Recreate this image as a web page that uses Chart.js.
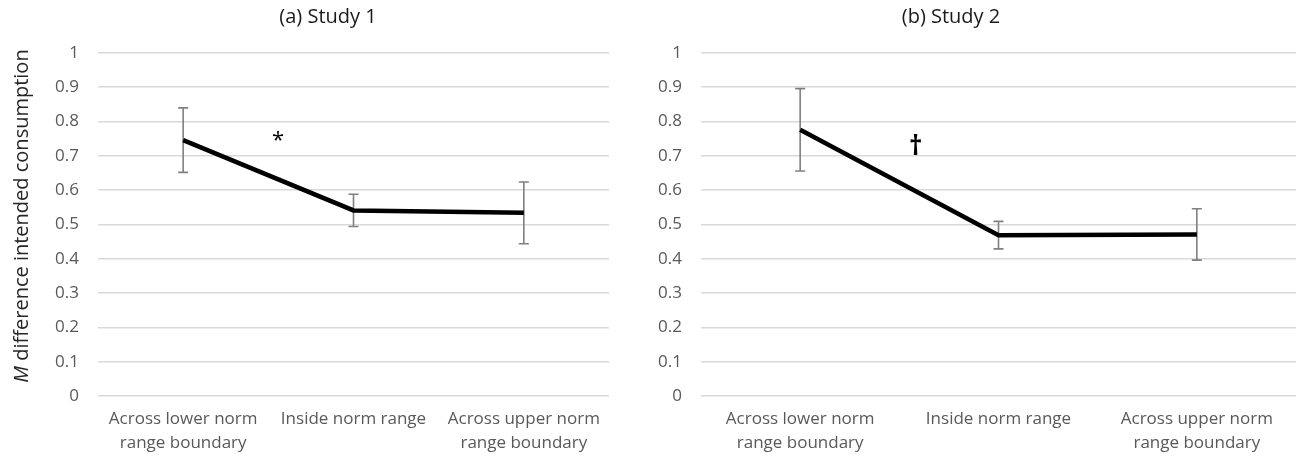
<!DOCTYPE html>
<html>
<head>
<meta charset="utf-8">
<script src="https://cdn.jsdelivr.net/npm/chart.js@4.4.1/dist/chart.umd.min.js"></script>
<style>
body { margin: 0; background: #fff; }
#wrap { position: relative; width: 1296px; height: 458px; }
.box { position: absolute; top: 0; height: 458px; }
#boxA { left: 0; width: 650px; }
#boxB { left: 650px; width: 646px; }
</style>
</head>
<body>
<div id="wrap">
  <div class="box" id="boxA"><canvas id="chartA"></canvas></div>
  <div class="box" id="boxB"><canvas id="chartB"></canvas></div>
</div>
<script>
let categories = [['Across lower norm', 'range boundary'], 'Inside norm range', ['Across upper norm', 'range boundary']];

let study1Means = [0.746, 0.541, 0.534];
let study1Errors = [0.094, 0.047, 0.09];

let study2Means = [0.776, 0.469, 0.471];
let study2Errors = [0.12, 0.04, 0.075];

let yTickValues = [0, 0.1, 0.2, 0.3, 0.4, 0.5, 0.6, 0.7, 0.8, 0.9, 1];

const FONT = '"Open Sans", "DejaVu Sans", sans-serif';
const TICK_COLOR = '#595959';
const GRID_COLOR = '#d9d9d9';

// error bars drawn under the line from each dataset's "errors" array
const errorBars = {
    id: 'errorBars',
    beforeDatasetsDraw(chart) {
        const ctx = chart.ctx;
        const ds = chart.data.datasets[0];
        const meta = chart.getDatasetMeta(0);
        const y = chart.scales.y;
        ctx.save();
        ctx.strokeStyle = '#808080';
        ctx.lineWidth = 1.6;
        meta.data.forEach(function(pt, i) {
            const top = y.getPixelForValue(ds.data[i] + ds.errors[i]);
            const bot = y.getPixelForValue(ds.data[i] - ds.errors[i]);
            ctx.beginPath();
            ctx.moveTo(pt.x, top); ctx.lineTo(pt.x, bot);
            ctx.moveTo(pt.x - 5, top); ctx.lineTo(pt.x + 5, top);
            ctx.moveTo(pt.x - 5, bot); ctx.lineTo(pt.x + 5, bot);
            ctx.stroke();
        });
        ctx.restore();
    }
};

// panel title, significance mark and (optionally) y axis title
const extras = {
    id: 'extras',
    afterDraw(chart, args, opts) {
        const ctx = chart.ctx;
        ctx.save();
        ctx.fillStyle = '#1a1a1a';
        ctx.textAlign = 'center';
        ctx.textBaseline = 'middle';
        ctx.font = '20px ' + FONT;
        ctx.fillText(opts.title, opts.titleX, 17);

        ctx.fillStyle = '#000';
        ctx.font = opts.markFont + ' ' + FONT;
        ctx.fillText(opts.mark, chart.scales.x.getPixelForValue(opts.markAt[0]), chart.scales.y.getPixelForValue(opts.markAt[1]));

        if (opts.yTitle) {
            ctx.translate(22, 216);
            ctx.rotate(-Math.PI / 2);
            ctx.fillStyle = '#262626';
            ctx.textAlign = 'left';
            const italic = 'italic 20px ' + FONT;
            const normal = '20px ' + FONT;
            ctx.font = italic;
            const w1 = ctx.measureText('M').width;
            ctx.font = normal;
            const w2 = ctx.measureText(' difference intended consumption').width;
            const x0 = -(w1 + w2) / 2;
            ctx.font = italic;
            ctx.fillText('M', x0, 0);
            ctx.font = normal;
            ctx.fillText(' difference intended consumption', x0 + w1, 0);
        }
        ctx.restore();
    }
};

function makeChart(id, means, errors, axisWidth, padRight, extraOpts) {
    return new Chart(document.getElementById(id).getContext('2d'), {
        type: 'line',
        data: {
            labels: categories,
            datasets: [{
                data: means,
                errors: errors,
                borderColor: '#000',
                borderWidth: 4.5,
                pointRadius: 0,
                pointHoverRadius: 0,
                tension: 0,
                fill: false
            }]
        },
        options: {
            responsive: true,
            maintainAspectRatio: false,
            devicePixelRatio: 1,
            animation: false,
            events: [],
            layout: { padding: { top: 53, right: padRight, bottom: 0, left: 0 } },
            plugins: {
                legend: { display: false },
                tooltip: { enabled: false },
                extras: extraOpts
            },
            scales: {
                x: {
                    offset: true,
                    grid: { display: false },
                    border: { display: false },
                    ticks: {
                        color: TICK_COLOR,
                        font: { family: FONT, size: 17, lineHeight: 1.4 },
                        padding: 3,
                        maxRotation: 0,
                        autoSkip: false
                    },
                    afterFit: function(scale) { scale.height = 62; }
                },
                y: {
                    min: 0,
                    max: 1,
                    afterBuildTicks: function(scale) {
                        scale.ticks = yTickValues.map(function(v) { return { value: v }; });
                    },
                    grid: { color: GRID_COLOR, lineWidth: 1.6, drawTicks: false },
                    border: { display: false },
                    ticks: {
                        color: TICK_COLOR,
                        font: { family: FONT, size: 17 },
                        padding: 19,
                        callback: function(v) { return String(Math.round(v * 10) / 10); }
                    },
                    afterFit: function(scale) { scale.width = axisWidth; }
                }
            }
        },
        plugins: [errorBars, extras]
    });
}

let chartA = makeChart('chartA', study1Means, study1Errors, 98, 41, {
    title: '(a) Study 1', titleX: 328, mark: '*', markFont: '22px', markAt: [0.557, 0.745], yTitle: true
});
let chartB = makeChart('chartB', study2Means, study2Errors, 51, 0, {
    title: '(b) Study 2', titleX: 301, mark: '\u2020', markFont: 'bold 26px', markAt: [0.583, 0.724], yTitle: false
});
</script>
</body>
</html>
